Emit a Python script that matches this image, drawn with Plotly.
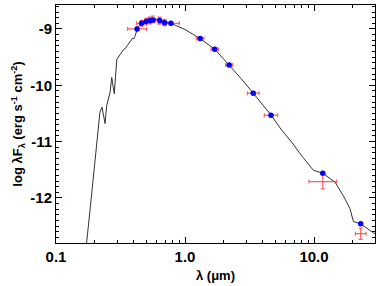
import numpy as np
import plotly.graph_objects as go

# Model SED (wavelength in micron, log lambda F_lambda)
model_lam = [0.170, 0.173, 0.184, 0.2065, 0.219, 0.2275, 0.240, 0.247, 0.2624, 0.2704,
             0.283, 0.296, 0.313, 0.333, 0.343, 0.363, 0.386, 0.394, 0.400, 0.409,
             0.435, 0.465, 0.516, 0.568, 0.640, 0.778, 1.0, 1.306, 1.70, 2.20,
             2.72, 3.38, 4.65, 5.55, 6.71, 8.07, 9.89, 11.67, 14.55, 16.87,
             19.0, 20.2, 23.0, 29.7, 31.0]
model_logF = [-13.2, -12.78, -12.19, -11.01, -10.48, -10.39, -10.68, -10.36, -10.13, -9.86,
              -10.15, -9.54, -9.45, -9.37, -9.35, -9.28, -9.19, -9.16, -9.18, -9.13,
              -8.95, -8.89, -8.84, -8.82, -8.84, -8.90, -9.01, -9.17, -9.36, -9.64,
              -9.88, -10.14, -10.53, -10.78, -11.01, -11.26, -11.51, -11.56, -11.72, -11.96,
              -12.19, -12.42, -12.46, -12.64, -12.67]

# Photometry: band wavelengths, model fluxes (blue), observed fluxes (red)
phot_lam = [0.425, 0.461, 0.499, 0.536, 0.565, 0.637, 0.696, 0.778,
            1.31, 1.70, 2.20, 3.38, 4.64, 11.7, 23.0]
phot_model_logF = [-9.00, -8.90, -8.87, -8.85, -8.84, -8.85, -8.89, -8.90,
                   -9.17, -9.36, -9.64, -10.14, -10.53, -11.56, -12.46]
obs_logF = [-9.00, -8.90, -8.87, -8.85, -8.83, -8.85, -8.89, -8.90,
            -9.17, -9.36, -9.64, -10.14, -10.53, -11.71, -12.635]
obs_err_logF = [0.03, 0.05, 0.06, 0.06, 0.06, 0.06, 0.05, 0.03,
                0.025, 0.025, 0.025, 0.025, 0.025, 0.13, 0.10]
band_halfwidth_dex = [0.073, 0.04, 0.035, 0.03, 0.04, 0.035, 0.05, 0.065,
                      0.029, 0.029, 0.028, 0.045, 0.052, 0.107, 0.041]

x_ticks = [0.1, 1.0, 10.0]
x_ticktext = ["0.1", "1.0", "10.0"]
y_ticks = [-12, -11, -10, -9]
y_ticktext = ["-12", "-11", "-10", "-9"]

lam = np.array(phot_lam)
hw = np.array(band_halfwidth_dex)
err_plus = lam * (10 ** hw) - lam
err_minus = lam - lam / (10 ** hw)

red = "rgba(255,40,40,0.75)"

fig = go.Figure()
fig.add_trace(go.Scatter(x=model_lam, y=model_logF, mode="lines",
                         line=dict(color="#333333", width=1), hoverinfo="skip"))
fig.add_trace(go.Scatter(x=phot_lam, y=obs_logF, mode="markers",
                         marker=dict(size=1, color="rgba(0,0,0,0)"),
                         error_x=dict(type="data", array=err_plus.tolist(),
                                      arrayminus=err_minus.tolist(), symmetric=False,
                                      color=red, thickness=1.2, width=2),
                         error_y=dict(type="data", array=obs_err_logF,
                                      color=red, thickness=1.2, width=2)))
fig.add_trace(go.Scatter(x=phot_lam, y=phot_model_logF, mode="markers",
                         marker=dict(size=5.5, color="#0000ff", line=dict(width=0))))

font = "Liberation Sans, Arial, Helvetica, sans-serif"
fig.update_layout(
    width=382, height=286,
    margin=dict(l=56, r=7, t=5, b=43, autoexpand=False),
    paper_bgcolor="white", plot_bgcolor="white",
    showlegend=False,
    font=dict(family=font, color="black"),
)
fig.update_xaxes(
    type="log", range=[-1, np.log10(29.7)], automargin=False,
    tickvals=x_ticks, ticktext=x_ticktext,
    tickfont=dict(size=15, family=font, weight="bold"),
    ticks="inside", ticklen=6, tickwidth=1, tickcolor="black",
    showline=True, linecolor="black", linewidth=1, mirror="allticks",
    showgrid=False, zeroline=False,
    minor=dict(ticks="inside", ticklen=3, tickwidth=1, tickcolor="black",
               tickvals=[0.2, 0.3, 0.4, 0.5, 0.6, 0.7, 0.8, 0.9,
                         2, 3, 4, 5, 6, 7, 8, 9, 20, 30], showgrid=False),
    title=dict(text="<b>λ (μm)</b>", font=dict(size=13, family=font), standoff=6),
)
fig.update_yaxes(
    range=[-12.8, -8.575], automargin=False,
    tickvals=y_ticks, ticktext=y_ticktext,
    tickfont=dict(size=15, family=font, weight="bold"),
    ticks="inside", ticklen=6, tickwidth=1, tickcolor="black",
    showline=True, linecolor="black", linewidth=1, mirror="allticks",
    showgrid=False, zeroline=False,
    minor=dict(ticks="inside", ticklen=3, tickwidth=1, tickcolor="black",
               dtick=0.1, showgrid=False),
    title=dict(text="<b>log λF<sub>λ</sub> (erg s<sup>-1</sup> cm<sup>-2</sup>)</b>",
               font=dict(size=13, family=font), standoff=4),
)

fig.write_html("out.html", config={"displayModeBar": False},
               post_script="document.body.style.margin='0';document.body.style.overflow='hidden';")
